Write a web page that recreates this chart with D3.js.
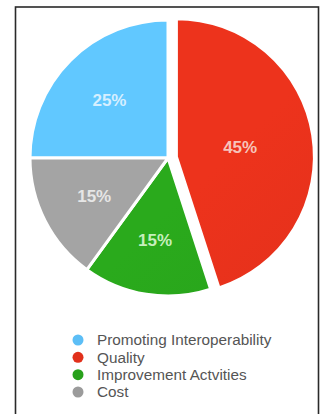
<!DOCTYPE html>
<html>
<head>
<meta charset="utf-8">
<script src="https://cdn.jsdelivr.net/npm/d3@7"></script>
<style>
  html, body { margin: 0; padding: 0; background: #fff; }
  svg { display: block; }
</style>
</head>
<body>
<svg id="chart" width="320" height="414"></svg>
<script>
// ---- data ----
const categories = ["Promoting Interoperability", "Quality", "Improvement Actvities", "Cost"];
const values = [25, 45, 15, 15];
const labels = ["25%", "45%", "15%", "15%"];
const pieOrder = ["Quality", "Improvement Actvities", "Cost", "Promoting Interoperability"];
const colors = ["#5cbef6", "#e1301b", "#28a11b", "#9b9b9b"];
const colorsDark = ["#4aa9e6", "#c01f0f", "#1c8a12", "#868686"];
const labelColors = ["#d6efff", "#f6c4bb", "#c6efbd", "#e6e6e6"];
const exploded = ["Quality"];

// ---- layout ----
const W = 320, H = 414;
const cx = 168, cy = 158, R = 138, explode = 8.5;
const svg = d3.select("#chart");

// frame
svg.append("rect")
  .attr("x", 15.5).attr("y", 7).attr("width", 303).attr("height", 420)
  .attr("fill", "#fff").attr("stroke", "#2a2a2a").attr("stroke-width", 1.6);

const data = categories.map((c, i) => ({ cat: c, value: values[i], label: labels[i],
  color: colors[i], dark: colorsDark[i], lc: labelColors[i] }));

const color = d3.scaleOrdinal().domain(categories).range(colors);

const defs = svg.append("defs");
data.forEach((d, i) => {
  const g = defs.append("linearGradient").attr("id", "g" + i)
    .attr("gradientUnits", "userSpaceOnUse")
    .attr("x1", cx - R).attr("y1", cy - R).attr("x2", cx + R).attr("y2", cy + R);
  g.append("stop").attr("offset", "0%").attr("stop-color", d3.color(d.color).brighter(0.15));
  g.append("stop").attr("offset", "60%").attr("stop-color", d.color);
  g.append("stop").attr("offset", "100%").attr("stop-color", d.dark);
});

const pie = d3.pie()
  .sort((a, b) => pieOrder.indexOf(a.cat) - pieOrder.indexOf(b.cat))
  .value(d => d.value);
const arcs = pie(data);
const arc = d3.arc().innerRadius(0).outerRadius(R);
const labelArc = d3.arc().innerRadius(R * 0.6).outerRadius(R * 0.6);

const g = svg.append("g").attr("transform", `translate(${cx},${cy})`);

const slices = g.selectAll("g.slice").data(arcs).enter().append("g")
  .attr("class", "slice")
  .attr("transform", d => {
    if (!exploded.includes(d.data.cat)) return null;
    const a = (d.startAngle + d.endAngle) / 2;
    return `translate(${Math.sin(a) * explode},${-Math.cos(a) * explode})`;
  });

slices.append("path")
  .attr("d", arc)
  .attr("fill", d => `url(#g${categories.indexOf(d.data.cat)})`)
  .attr("stroke", "#fff").attr("stroke-width", 3).attr("stroke-linejoin", "round");

slices.append("text")
  .attr("transform", d => {
    const [x, y] = labelArc.centroid(d);
    const k = exploded.includes(d.data.cat) ? 0.78 : 1;
    return `translate(${x * k},${y * k})`;
  })
  .attr("text-anchor", "middle").attr("dy", "0.36em")
  .attr("font-family", "Liberation Sans, Arial, sans-serif")
  .attr("font-size", 17).attr("font-weight", "bold")
  .attr("fill", d => d.data.lc)
  .text(d => d.data.label);

// legend
const legend = svg.append("g").attr("transform", "translate(78,340)");
const ly = d3.scalePoint().domain(categories).range([0, 52]);
const items = legend.selectAll("g").data(data).enter().append("g")
  .attr("transform", d => `translate(0,${ly(d.cat)})`);
items.append("circle").attr("r", 5.5).attr("fill", d => color(d.cat));
items.append("text").attr("x", 19).attr("dy", "0.35em")
  .attr("font-family", "Liberation Sans, Arial, sans-serif")
  .attr("font-size", 15.3).attr("fill", "#555")
  .text(d => d.cat);
</script>
</body>
</html>
